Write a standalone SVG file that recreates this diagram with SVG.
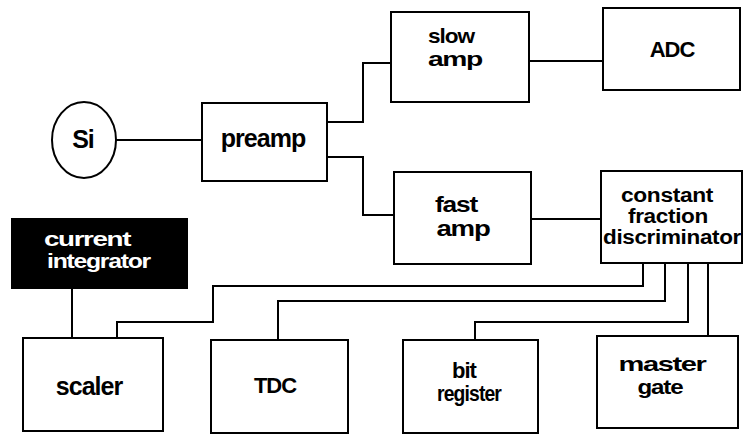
<svg xmlns="http://www.w3.org/2000/svg" width="743" height="435" viewBox="0 0 743 435">
<style>
.box{fill:#fff;stroke:#000;stroke-width:2}
.w{fill:none;stroke:#000;stroke-width:2;stroke-linejoin:miter}
.t{font-family:"Liberation Sans",Arial,sans-serif;font-weight:bold;font-size:25px;fill:#000;text-anchor:middle;letter-spacing:-1px}
.m{font-size:22px}
.n{font-size:21px}
.s{font-size:22px}
.c{font-size:20px;letter-spacing:-0.3px}
.inv{fill:#fff;text-anchor:start;font-size:20px}
</style>
<rect width="743" height="435" fill="#fff"/>
<g id="connectors">
<path class="w" d="M116,140 H202"/>
<path class="w" d="M327,122 H363 V63 H391"/>
<path class="w" d="M327,157 H363 V215 H394"/>
<path class="w" d="M529,61 H603"/>
<path class="w" d="M531,219 H601"/>
<path class="w" d="M643,263 V286 H213 V322 H117 V338"/>
<path class="w" d="M665,263 V301 H278 V340"/>
<path class="w" d="M688,263 V322 H475 V340"/>
<path class="w" d="M708,263 V336"/>
<path class="w" d="M72,288 V338"/>
</g>
<g id="si">
<ellipse class="box" cx="84" cy="140" rx="32" ry="38"/>
<text class="t" x="83" y="148">Si</text>
</g>
<g id="preamp">
<rect class="box" x="202" y="103" width="125" height="78"/>
<text class="t" x="263" y="147">preamp</text>
</g>
<g id="slowamp">
<rect class="box" x="391" y="12" width="138" height="90"/>
<text class="t n" x="451" y="43" textLength="46" lengthAdjust="spacingAndGlyphs">slow</text>
<text class="t n" x="455" y="66" textLength="54" lengthAdjust="spacingAndGlyphs">amp</text>
</g>
<g id="adc">
<rect class="box" x="603" y="8" width="137" height="82"/>
<text class="t s" x="672" y="57">ADC</text>
</g>
<g id="fastamp">
<rect class="box" x="394" y="172" width="137" height="92"/>
<text class="t m" x="456" y="212" textLength="42" lengthAdjust="spacingAndGlyphs">fast</text>
<text class="t m" x="463" y="236" textLength="53" lengthAdjust="spacingAndGlyphs">amp</text>
</g>
<g id="cfd">
<rect class="box" x="601" y="171" width="141" height="92"/>
<text class="t c" x="667" y="202" textLength="92" lengthAdjust="spacingAndGlyphs">constant</text>
<text class="t c" x="668" y="223" textLength="80" lengthAdjust="spacingAndGlyphs">fraction</text>
<text class="t c" x="672" y="244" textLength="138" lengthAdjust="spacingAndGlyphs">discriminator</text>
</g>
<g id="integrator">
<rect x="12" y="219" width="175" height="69" fill="#000" stroke="#000" stroke-width="2"/>
<text class="t inv" x="44" y="246" textLength="86" lengthAdjust="spacingAndGlyphs">current</text>
<text class="t inv" x="47" y="268" textLength="103" lengthAdjust="spacingAndGlyphs">integrator</text>
</g>
<g id="scaler">
<rect class="box" x="23" y="338" width="140" height="93"/>
<text class="t" x="89" y="395">scaler</text>
</g>
<g id="tdc">
<rect class="box" x="211" y="340" width="137" height="93"/>
<text class="t s" x="275" y="393">TDC</text>
</g>
<g id="bitregister">
<rect class="box" x="403" y="340" width="135" height="93"/>
<text class="t m" x="464" y="378">bit</text>
<text class="t m" x="469" y="401" textLength="64" lengthAdjust="spacingAndGlyphs">register</text>
</g>
<g id="mastergate">
<rect class="box" x="597" y="336" width="141" height="92"/>
<text class="t n" x="662" y="371" textLength="87" lengthAdjust="spacingAndGlyphs">master</text>
<text class="t n" x="660" y="394" textLength="45" lengthAdjust="spacingAndGlyphs">gate</text>
</g>
</svg>
